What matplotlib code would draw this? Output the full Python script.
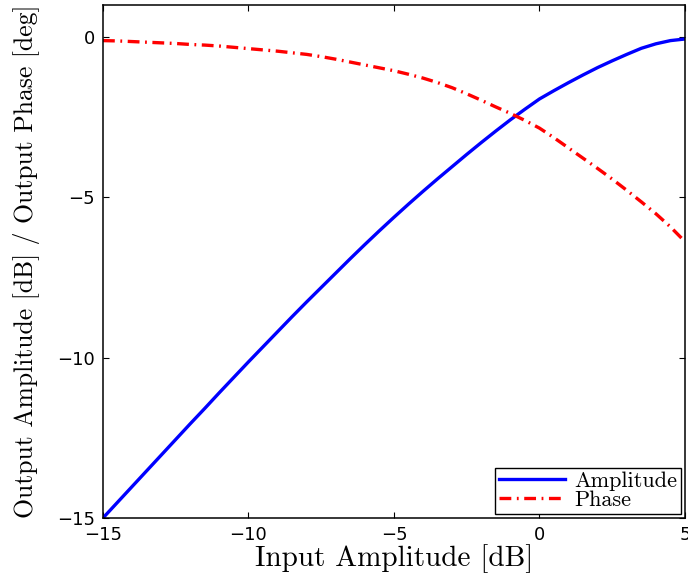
import matplotlib
matplotlib.use("Agg")
import matplotlib.pyplot as plt

# Data (0.5 dB steps)
input_db = [-15.0, -14.5, -14.0, -13.5, -13.0, -12.5, -12.0, -11.5, -11.0, -10.5,
            -10.0, -9.5, -9.0, -8.5, -8.0, -7.5, -7.0, -6.5, -6.0, -5.5,
            -5.0, -4.5, -4.0, -3.5, -3.0, -2.5, -2.0, -1.5, -1.0, -0.5,
            0.0, 0.5, 1.0, 1.5, 2.0, 2.5, 3.0, 3.5, 4.0, 4.5, 5.0]
amplitude_db = [-15.00, -14.51, -14.02, -13.53, -13.04, -12.55, -12.06, -11.58, -11.09, -10.61,
                -10.13, -9.66, -9.19, -8.72, -8.26, -7.81, -7.36, -6.91, -6.47, -6.04,
                -5.62, -5.21, -4.81, -4.42, -4.04, -3.66, -3.29, -2.93, -2.58, -2.25,
                -1.93, -1.67, -1.42, -1.18, -0.95, -0.74, -0.54, -0.35, -0.21, -0.11, -0.06]
phase_deg = [-0.11, -0.12, -0.14, -0.16, -0.18, -0.20, -0.23, -0.25, -0.28, -0.32,
             -0.36, -0.40, -0.44, -0.49, -0.54, -0.61, -0.69, -0.78, -0.87, -0.96,
             -1.05, -1.16, -1.28, -1.42, -1.58, -1.77, -1.97, -2.18, -2.38, -2.60,
             -2.84, -3.14, -3.46, -3.78, -4.10, -4.43, -4.78, -5.14, -5.51, -5.92, -6.38]

xticks = [-15, -10, -5, 0, 5]
yticks = [-15, -10, -5, 0]

plt.rcParams['lines.scale_dashes'] = False
serif = ['cmr10', 'DejaVu Serif']
sans = ['DejaVu Sans']

fig = plt.figure(figsize=(6.88, 5.77), dpi=100)
ax = fig.add_axes([0.1497, 0.1023, 0.8459, 0.889])

ax.plot(input_db, amplitude_db, color='#0000ff', lw=2.4, label='Amplitude')
ph, = ax.plot(input_db, phase_deg, color='#ff0000', lw=2.4, label='Phase')
ph.set_dashes((8.5, 4.0, 1.3, 4.0))

ax.set_xlim(-15, 5)
ax.set_ylim(-15, 1)
ax.set_xticks(xticks)
ax.set_yticks(yticks)
fmt = lambda t: '\u2212' + str(-t) if t < 0 else str(t)
ax.set_xticklabels([fmt(t) for t in xticks], family=sans, fontsize=13)
ax.set_yticklabels([fmt(t) for t in yticks], family=sans, fontsize=13)
ax.tick_params(direction='in', length=4, width=0.8, top=True, right=True)
ax.tick_params(axis='x', pad=6)
ax.tick_params(axis='y', pad=6)
for s in ax.spines.values():
    s.set_linewidth(1.1)

ax.set_xlabel('Input Amplitude [dB]', family=serif, fontsize=21, labelpad=0)
ax.set_ylabel('Output Amplitude [dB] / Output Phase [deg]', family=serif, fontsize=18.5, labelpad=12)

leg = ax.legend(loc='lower right', prop={'family': serif, 'size': 16},
                frameon=True, fancybox=False, edgecolor='black', framealpha=1,
                borderaxespad=0.2, borderpad=0.15, labelspacing=0.0,
                handlelength=3.0, handletextpad=0.4)
leg.get_frame().set_linewidth(1.0)

fig.savefig('out.png', dpi=100)
